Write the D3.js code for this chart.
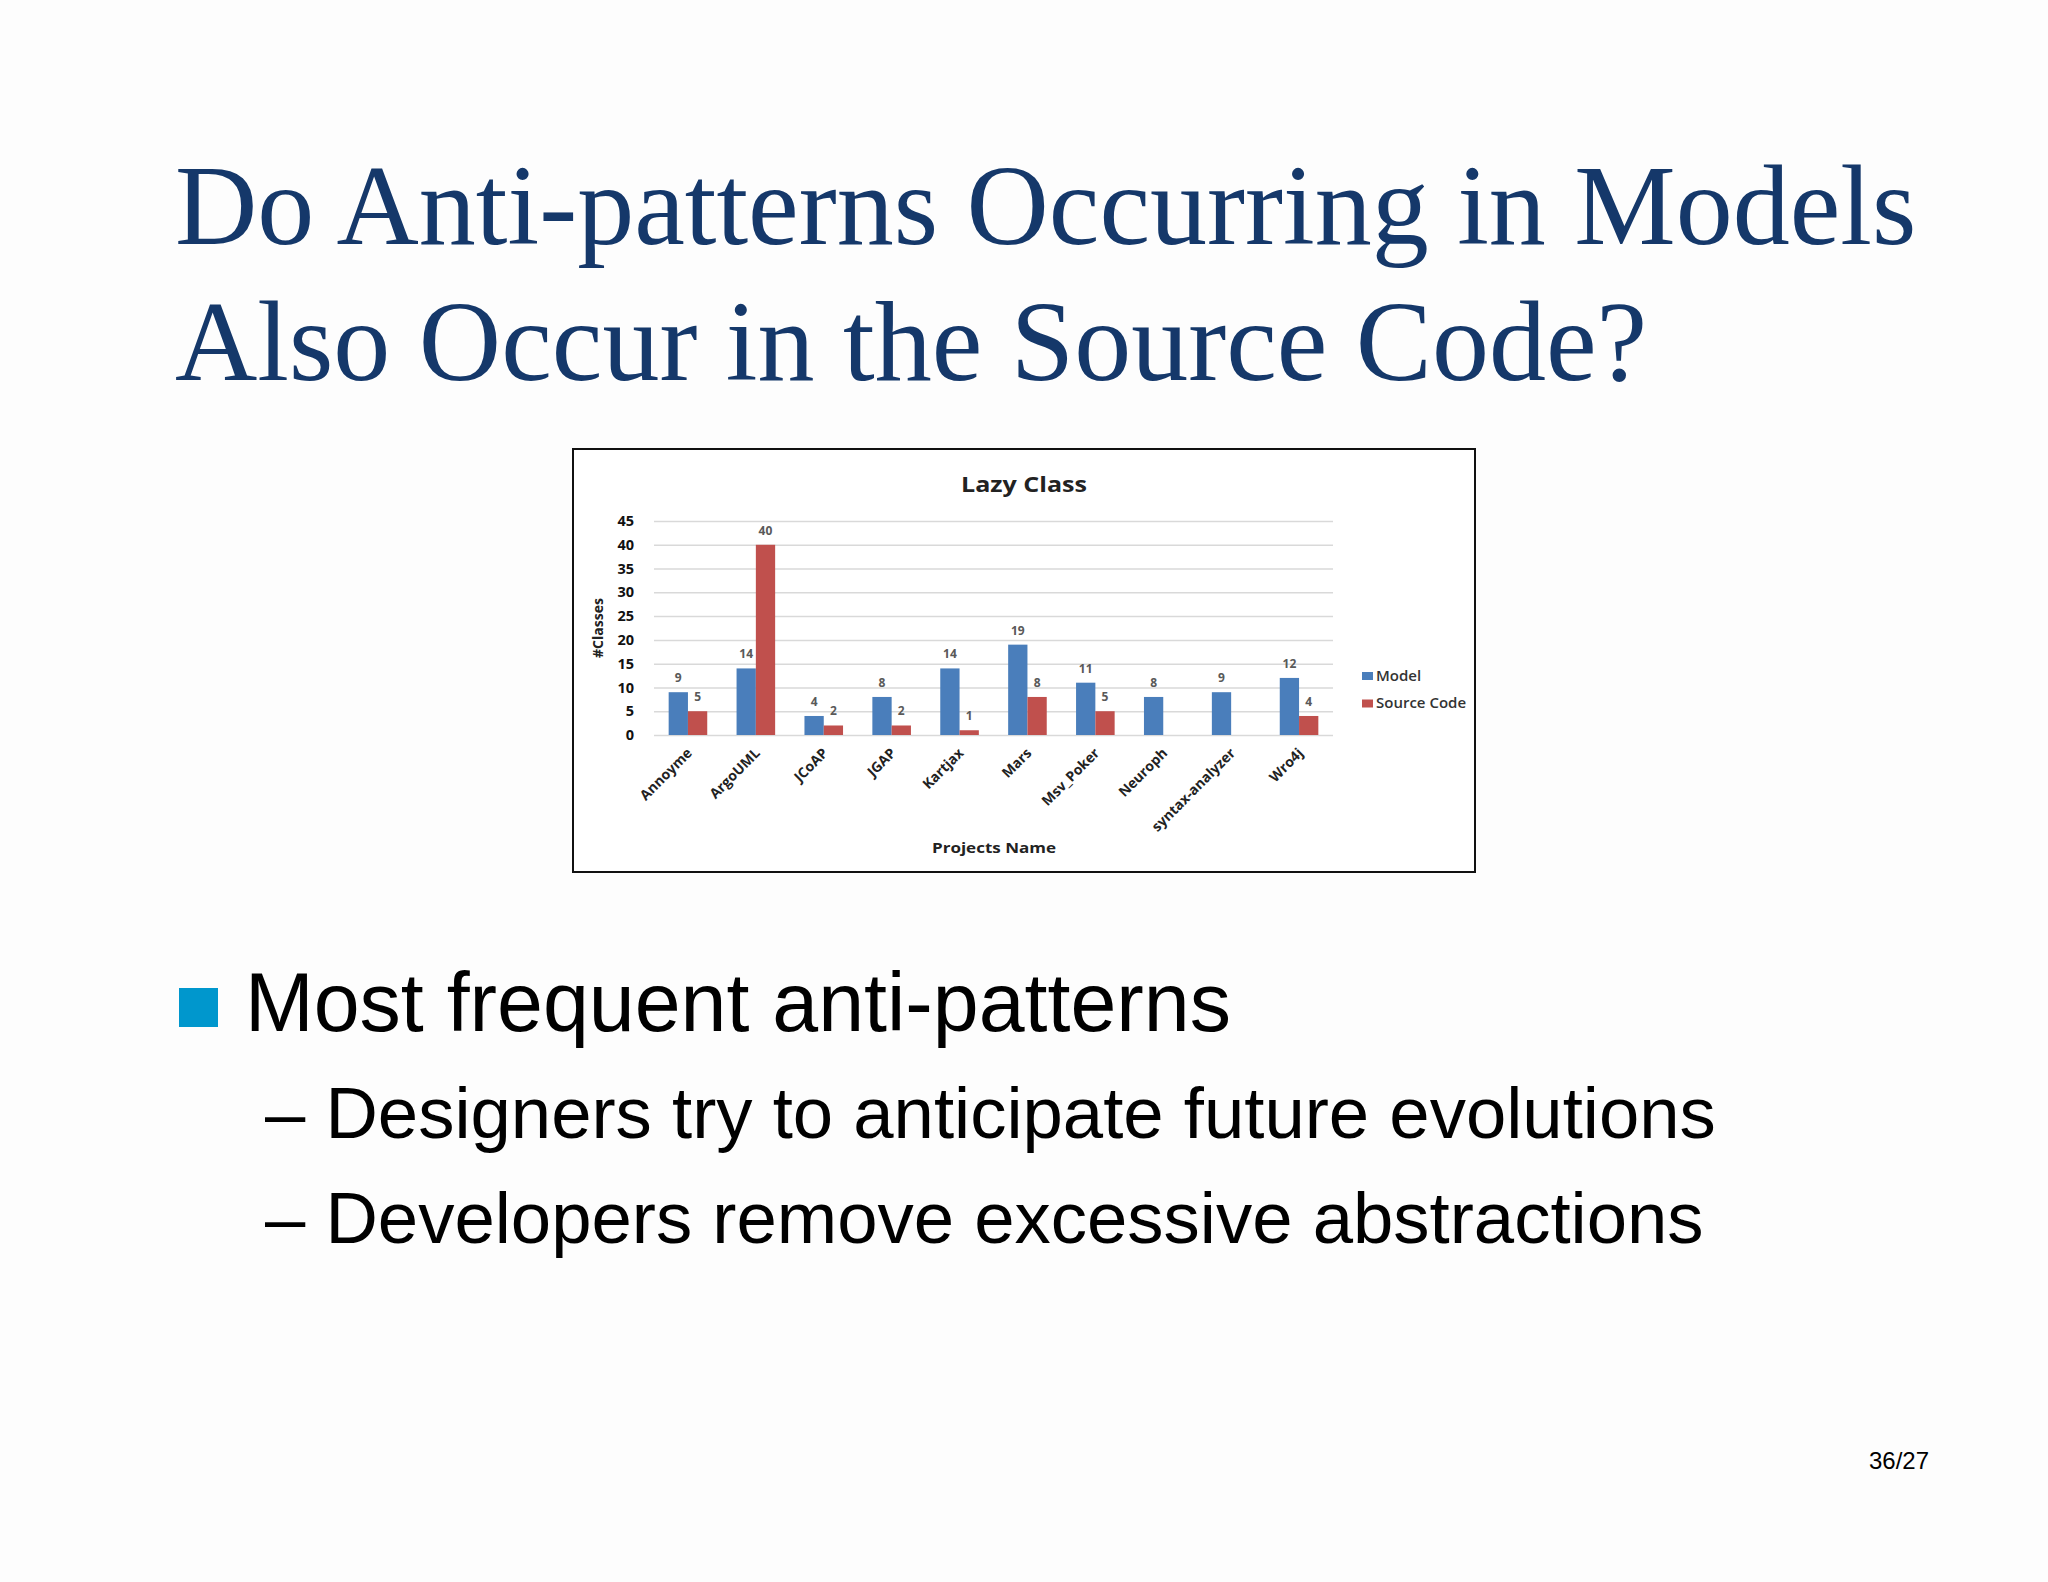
<!DOCTYPE html>
<html>
<head>
<meta charset="utf-8">
<script src="https://cdn.jsdelivr.net/npm/d3@7"></script>
<style>
  html, body { margin: 0; padding: 0; background: #fdfdfd; }
  svg { display: block; }
</style>
</head>
<body>
<div id="slide"></div>
<script>
// chart values
const projects = ["Annoyme", "ArgoUML", "JCoAP", "JGAP", "Kartjax", "Mars", "Msv_Poker", "Neuroph", "syntax-analyzer", "Wro4j"];
const modelValues = [9, 14, 4, 8, 14, 19, 11, 8, 9, 12];
const sourceValues = [5, 40, 2, 2, 1, 8, 5, null, null, 4];
const seriesNames = ["Model", "Source Code"];
const seriesColors = ["#4a7ebb", "#c0504d"];
const yTicks = [0, 5, 10, 15, 20, 25, 30, 35, 40, 45];

const titleLines = ["Do Anti-patterns Occurring in Models", "Also Occur in the Source Code?"];
const bulletText = "Most frequent anti-patterns";
const subBullets = ["Designers try to anticipate future evolutions", "Developers remove excessive abstractions"];

const W = 2048, H = 1582;

const svg = d3.select("#slide")
  .append("svg")
    .attr("width", W)
    .attr("height", H);

svg.append("rect")
  .attr("width", W)
  .attr("height", H)
  .attr("fill", "#fdfdfd");

// slide title
svg.append("g").selectAll("text")
  .data(titleLines)
  .join("text")
    .attr("x", 175)
    .attr("y", (d, i) => 244 + i * 136)
    .style("font-family", "'Liberation Serif', 'Times New Roman', serif")
    .style("font-size", "114px")
    .attr("fill", "#15386a")
    .text(d => d);

// chart frame
const box = {x: 573, y: 449, w: 902, h: 423};
svg.append("rect")
  .attr("x", box.x)
  .attr("y", box.y)
  .attr("width", box.w)
  .attr("height", box.h)
  .attr("fill", "#ffffff")
  .attr("stroke", "#111")
  .attr("stroke-width", 2);

const chartFont = "'Open Sans', 'DejaVu Sans', sans-serif";

// scales
const x = d3.scaleBand()
  .domain(projects)
  .range([654, 1333]);

const x1 = d3.scaleBand()
  .domain(seriesNames)
  .range([0, x.bandwidth()])
  .paddingOuter(0.76);

const y = d3.scaleLinear()
  .domain([0, 45])
  .range([735, 521]);

// grid + y axis
const yAxis = svg.append("g")
  .attr("transform", "translate(654,0)")
  .call(d3.axisLeft(y).tickValues(yTicks).tickSize(-(1333 - 654)).tickPadding(20));
yAxis.select(".domain").remove();
yAxis.selectAll(".tick line")
  .attr("stroke", "#d9d9d9")
  .attr("stroke-width", 1.5);
yAxis.selectAll(".tick text")
  .style("font-family", chartFont)
  .style("font-size", "14.5px")
  .style("font-weight", "bold")
  .attr("fill", "#111");

// bars
const rows = projects.map((p, i) => ({project: p, values: [modelValues[i], sourceValues[i]]}));

const groups = svg.append("g").selectAll("g")
  .data(rows)
  .join("g")
    .attr("transform", d => `translate(${x(d.project)},0)`);

groups.selectAll("rect")
  .data(d => d.values.map((v, k) => ({series: seriesNames[k], value: v, k: k})).filter(e => e.value != null))
  .join("rect")
    .attr("x", e => x1(e.series))
    .attr("y", e => y(e.value))
    .attr("width", x1.bandwidth())
    .attr("height", e => y(0) - y(e.value))
    .attr("fill", e => seriesColors[e.k]);

groups.selectAll("text")
  .data(d => d.values.map((v, k) => ({series: seriesNames[k], value: v})).filter(e => e.value != null))
  .join("text")
    .attr("x", e => x1(e.series) + x1.bandwidth() / 2)
    .attr("y", e => y(e.value) - 10)
    .attr("text-anchor", "middle")
    .style("font-family", chartFont)
    .style("font-size", "12px")
    .style("font-weight", "bold")
    .attr("fill", "#595959")
    .text(e => e.value);

// x axis labels
const xAxis = svg.append("g")
  .attr("transform", "translate(0,735)")
  .call(d3.axisBottom(x).tickSize(0).tickPadding(0));
xAxis.select(".domain").remove();
xAxis.selectAll(".tick text")
  .attr("text-anchor", "end")
  .attr("transform", "translate(5,19) rotate(-45)")
  .attr("dy", "0")
  .attr("y", 0)
  .style("font-family", chartFont)
  .style("font-size", "14px")
  .style("font-weight", "bold")
  .attr("fill", "#222");

// chart title and axis titles
svg.append("text")
  .attr("x", 1024)
  .attr("y", 492)
  .attr("text-anchor", "middle")
  .attr("textLength", 126)
  .attr("lengthAdjust", "spacingAndGlyphs")
  .style("font-family", chartFont)
  .style("font-size", "21px")
  .style("font-weight", "bold")
  .attr("fill", "#222")
  .text("Lazy Class");

svg.append("text")
  .attr("x", 994)
  .attr("y", 853)
  .attr("text-anchor", "middle")
  .attr("textLength", 124)
  .attr("lengthAdjust", "spacingAndGlyphs")
  .style("font-family", chartFont)
  .style("font-size", "15px")
  .style("font-weight", "bold")
  .attr("fill", "#222")
  .text("Projects Name");

svg.append("text")
  .attr("transform", "translate(603,628) rotate(-90)")
  .attr("text-anchor", "middle")
  .style("font-family", chartFont)
  .style("font-size", "14px")
  .style("font-weight", "bold")
  .attr("fill", "#222")
  .text("#Classes");

// legend
const legend = svg.append("g").selectAll("g")
  .data(seriesNames)
  .join("g")
    .attr("transform", (d, i) => `translate(1362,${672 + i * 27.5})`);
legend.append("rect")
  .attr("width", 11)
  .attr("height", 8)
  .attr("fill", (d, i) => seriesColors[i]);
legend.append("text")
  .attr("x", 14)
  .attr("y", 8.5)
  .style("font-family", chartFont)
  .style("font-size", "15px")
  .style("font-weight", "600")
  .attr("fill", "#333")
  .text(d => d);

// bullets
svg.append("rect")
  .attr("x", 179)
  .attr("y", 988)
  .attr("width", 39)
  .attr("height", 39)
  .attr("fill", "#0097cd");

svg.append("text")
  .attr("x", 245)
  .attr("y", 1031)
  .style("font-family", "'Liberation Sans', Arial, sans-serif")
  .style("font-size", "82.5px")
  .attr("fill", "#000")
  .text(bulletText);

svg.append("g").selectAll("text")
  .data(subBullets)
  .join("text")
    .attr("x", 265)
    .attr("y", (d, i) => 1138 + i * 105)
    .style("font-family", "'Liberation Sans', Arial, sans-serif")
    .style("font-size", "72.5px")
    .attr("fill", "#000")
    .text(d => "\u2013 " + d);

// page number
svg.append("text")
  .attr("x", 1929)
  .attr("y", 1469)
  .attr("text-anchor", "end")
  .style("font-family", "'Liberation Sans', Arial, sans-serif")
  .style("font-size", "24px")
  .attr("fill", "#000")
  .text("36/27");
</script>
</body>
</html>
